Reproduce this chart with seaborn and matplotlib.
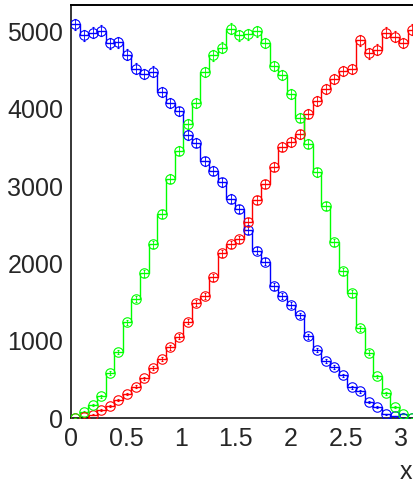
import numpy as np
import pandas as pd
import matplotlib
matplotlib.use("Agg")
import matplotlib.pyplot as plt
import seaborn as sns
from matplotlib.ticker import MultipleLocator, FuncFormatter

# Histogram binning: 40 bins over [0, pi]
n_bins = 40
x_min, x_max = 0.0, np.pi

# Bin contents of the three histograms
blue_counts = [5090, 4950, 4980, 5010, 4845, 4860, 4700, 4520, 4450, 4480,
               4215, 4080, 3965, 3660, 3560, 3320, 3200, 3050, 2840, 2700,
               2435, 2165, 2020, 1705, 1585, 1470, 1330, 1060, 880, 740,
               660, 555, 400, 350, 215, 150, 50, 25, 5, 3]
red_counts = [0, 13, 43, 108, 159, 237, 314, 409, 516, 645,
              762, 917, 1054, 1248, 1484, 1575, 1820, 2130, 2250, 2311,
              2538, 2822, 3030, 3249, 3507, 3571, 3670, 3937, 4105, 4260,
              4380, 4485, 4510, 4885, 4716, 4764, 4985, 4930, 4850, 5020]
green_counts = [5, 86, 172, 285, 590, 855, 1240, 1536, 1872, 2250,
                2638, 3098, 3455, 3805, 4080, 4475, 4690, 4790, 5035, 4948,
                4965, 5004, 4850, 4555, 4432, 4187, 3886, 3550, 3180, 2745,
                2275, 1900, 1614, 1162, 850, 542, 323, 150, 60, 5]

series = [("#0000ff", blue_counts), ("#ff0000", red_counts), ("#00ff00", green_counts)]

sns.set_style("white")
plt.rcParams["font.family"] = ["Liberation Sans", "DejaVu Sans"]

W, H = 413, 483
fig = plt.figure(figsize=(W / 100, H / 100), dpi=100)
ax = fig.add_axes([71 / W, 64.7 / H, 345.3 / W, 413.6 / H])

edges = np.linspace(x_min, x_max, n_bins + 1)
centers = 0.5 * (edges[:-1] + edges[1:])

for color, counts in series:
    df = pd.DataFrame({"x": centers, "n": np.asarray(counts, dtype=float)})
    sns.histplot(data=df, x="x", weights="n", bins=n_bins,
                 binrange=(x_min, x_max), element="step", fill=False,
                 color=color, linewidth=1.0, ax=ax)
    ax.errorbar(df["x"], df["n"], yerr=np.sqrt(df["n"]), fmt="o", ms=6.8,
                mfc="none", mec=color, mew=0.8, ecolor=color,
                elinewidth=0.6, capsize=1.0, capthick=0.6, zorder=3)

ax.set_xlim(x_min, x_max)
ax.set_ylim(0, 1.05 * max(blue_counts))
ax.set_xlabel("")
ax.set_ylabel("")

ax.xaxis.set_major_locator(MultipleLocator(0.5))
ax.xaxis.set_minor_locator(MultipleLocator(0.1))
ax.yaxis.set_major_locator(MultipleLocator(1000))
ax.yaxis.set_minor_locator(MultipleLocator(200))
ax.xaxis.set_major_formatter(FuncFormatter(lambda v, p: f"{v:g}"))
ax.yaxis.set_major_formatter(FuncFormatter(lambda v, p: f"{v:g}"))

ax.tick_params(axis="both", which="both", direction="in", top=False, right=False,
               color="black", width=0.9)
ax.tick_params(axis="y", which="major", length=10.8, pad=5.5, labelsize=18)
ax.tick_params(axis="y", which="minor", length=5.8)
ax.tick_params(axis="x", which="major", length=6.5, pad=6, labelsize=18)
ax.tick_params(axis="x", which="minor", length=3.2)

for side in ("left", "bottom", "right"):
    ax.spines[side].set_linewidth(1.1)
ax.spines["top"].set_linewidth(1.4)
for s in ax.spines.values():
    s.set_color("black")

fig.text(412 / W, 4 / H, "x", ha="right", va="baseline", fontsize=18)

fig.savefig("out.png", dpi=100, facecolor="white")
